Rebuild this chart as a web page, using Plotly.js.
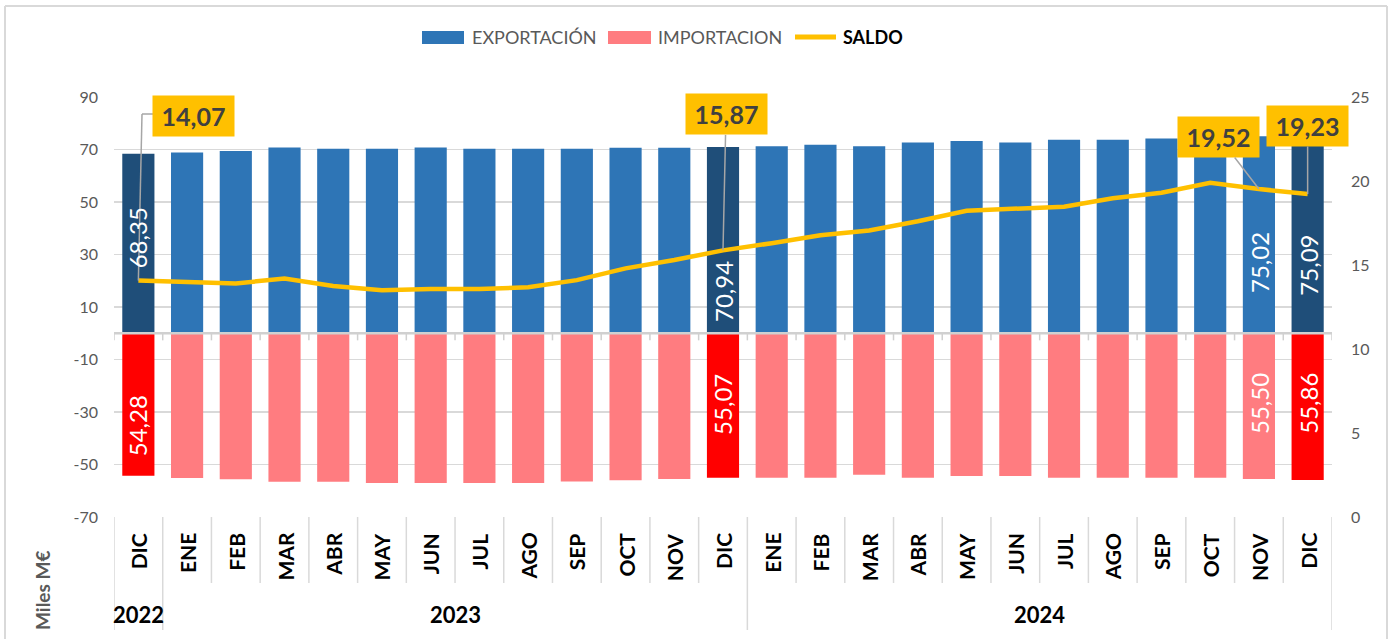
<!DOCTYPE html>
<html>
<head>
<meta charset="utf-8">
<script src="https://cdn.plot.ly/plotly-3.0.1.min.js"></script>
<style>html,body{margin:0;padding:0;background:#fff;}#chart{width:1395px;height:639px;}</style>
</head>
<body>
<div id="chart"></div>
<script>
// ---- data ----
const months = ['DIC','ENE','FEB','MAR','ABR','MAY','JUN','JUL','AGO','SEP','OCT','NOV','DIC',
                'ENE','FEB','MAR','ABR','MAY','JUN','JUL','AGO','SEP','OCT','NOV','DIC'];
const years = ['2022','2023','2023','2023','2023','2023','2023','2023','2023','2023','2023','2023','2023',
               '2024','2024','2024','2024','2024','2024','2024','2024','2024','2024','2024','2024'];
const exportacion = [68.35, 68.9, 69.4, 70.8, 70.3, 70.3, 70.8, 70.3, 70.3, 70.3, 70.7, 70.7, 70.94,
                     71.2, 71.8, 71.2, 72.7, 73.2, 72.7, 73.7, 73.7, 74.2, 74.9, 75.02, 75.09];
const importacion = [54.28, 55.1, 55.6, 56.6, 56.6, 57.0, 57.0, 57.0, 57.0, 56.5, 56.0, 55.5, 55.07,
                     55.0, 55.0, 53.9, 55.0, 54.4, 54.4, 55.0, 55.0, 55.0, 55.0, 55.50, 55.86];
const saldo = [14.07, 13.97, 13.9, 14.2, 13.75, 13.5, 13.57, 13.57, 13.67, 14.1, 14.8, 15.3, 15.87,
               16.3, 16.77, 17.05, 17.6, 18.23, 18.37, 18.47, 18.97, 19.3, 19.9, 19.52, 19.23];
const leftTicks = [-70, -50, -30, -10, 10, 30, 50, 70, 90];
const rightTicks = [0, 5, 10, 15, 20, 25];
const highlighted = [0, 12, 24];        // DIC bars drawn darker
const labelled = [0, 12, 23, 24];       // bars carrying value labels

// ---- geometry helpers (plot area in pixels) ----
const W = 1395, H = 639;
const PL = 114, PR = 1332, PT = 97, PB = 517;
const PX = px => (px - PL) / (PR - PL);
const PY = py => (PB - py) / (PB - PT);
const catW = (PR - PL) / months.length;
const pxToCat = px => (px - PL) / catW - 0.5;
const pyToY2 = py => (PB - py) / (PB - PT) * 25;
const fmt = v => v.toFixed(2).replace('.', ',');
const idx = months.map((_, i) => i);

const grey = '#595959';
const expColors = idx.map(i => highlighted.includes(i) ? '#1F4E79' : '#2E75B6');
const impColors = idx.map(i => highlighted.includes(i) ? '#FF0000' : '#FF7C80');

const traces = [
  {type: 'bar', x: idx, y: exportacion, width: 0.66, marker: {color: expColors},
   name: 'EXPORTACIÓN', hoverinfo: 'skip', showlegend: false},
  {type: 'bar', x: idx, y: importacion.map(v => -v), width: 0.66, marker: {color: impColors},
   name: 'IMPORTACION', hoverinfo: 'skip', showlegend: false},
  {type: 'scatter', mode: 'lines', x: idx, y: saldo, yaxis: 'y2',
   line: {color: '#FFC000', width: 4.5}, name: 'SALDO', hoverinfo: 'skip', showlegend: false}
];

const shapes = [];
const annotations = [];

// outer frame
const frame = {color: '#d9d9d9', width: 2};
shapes.push({type: 'line', xref: 'paper', yref: 'paper', x0: PX(5), x1: PX(5), y0: PY(6), y1: PY(640), line: frame});
shapes.push({type: 'line', xref: 'paper', yref: 'paper', x0: PX(5), x1: PX(1387), y0: PY(6), y1: PY(6), line: frame});
shapes.push({type: 'line', xref: 'paper', yref: 'paper', x0: PX(1387), x1: PX(1387), y0: PY(6), y1: PY(640), line: frame});

// zero axis line with ticks at category boundaries
shapes.push({type: 'line', xref: 'paper', yref: 'y', x0: 0, x1: 1, y0: 0, y1: 0, line: {color: '#d0d0d0', width: 2.5}});
for (let b = -0.5; b <= months.length - 0.5; b += 1) {
  shapes.push({type: 'line', xref: 'x', yref: 'y', x0: b, x1: b, y0: 0, y1: -2.7, line: {color: '#d0d0d0', width: 1.5}});
  const yearEdge = (b < 0) || (b > months.length - 1) || (years[Math.floor(b)] !== years[Math.ceil(b)]);
  shapes.push({type: 'line', xref: 'x', yref: 'paper', x0: b, x1: b, y0: 0, y1: PY(yearEdge ? 630 : 583),
               line: {color: '#d9d9d9', width: 1.5}});
}

// month labels
months.forEach((m, i) => {
  annotations.push({xref: 'x', yref: 'paper', x: i, y: PY(531), yanchor: 'top', xanchor: 'center',
    text: m, textangle: -90, showarrow: false, font: {family: 'Lato', size: 21, weight: 'bold', color: '#000'}});
});
// year labels
const yearNames = [...new Set(years)];
yearNames.forEach(yr => {
  const ids = idx.filter(i => years[i] === yr);
  const cx = ids.reduce((a, b) => a + b, 0) / ids.length;
  annotations.push({xref: 'x', yref: 'paper', x: cx, y: PY(614), yanchor: 'middle', xanchor: 'center',
    text: yr, showarrow: false, font: {family: 'Lato', size: 22, weight: 'bold', color: '#000'}});
});

// value labels inside bars (vertical, white)
const expLabelY = {0: 36.3, 12: 15.7, 23: 27.1, 24: 26.0};
const impLabelY = {0: -35.3, 12: -27.3, 23: -26.6, 24: -26.6};
labelled.forEach(i => {
  annotations.push({xref: 'x', yref: 'y', x: i, y: expLabelY[i], text: fmt(exportacion[i]), textangle: -90,
    showarrow: false, font: {family: 'Lato', size: 24, color: '#fff'}});
  annotations.push({xref: 'x', yref: 'y', x: i, y: impLabelY[i], text: fmt(importacion[i]), textangle: -90,
    showarrow: false, font: {family: 'Lato', size: 24, color: '#fff'}});
});

// saldo call-outs
const saldoCallouts = {0: [55, -165], 12: [3, -136], 23: [-40, -52], 24: [0, -68]};
const leaderColor = '#a6a6a6';
Object.keys(saldoCallouts).forEach(k => {
  const i = +k;
  const elbow = (i === 0);
  annotations.push({xref: 'x', yref: 'y2', x: i, y: saldo[i], text: fmt(saldo[i]),
    ax: saldoCallouts[k][0], ay: saldoCallouts[k][1], showarrow: true, arrowhead: 0, arrowwidth: 1.5,
    arrowcolor: elbow ? 'rgba(0,0,0,0)' : leaderColor, standoff: 0, bgcolor: '#FFC000', borderpad: 0,
    width: 81, height: 40, font: {family: 'Lato', size: 25, weight: 'bold', color: '#404040'}});
});
// elbow leader for the first call-out
const elbowX = pxToCat(142), elbowY = pyToY2(114);
shapes.push({type: 'line', xref: 'x', yref: 'y2', x0: 0, x1: elbowX, y0: saldo[0], y1: elbowY,
             line: {color: leaderColor, width: 1.5}});
shapes.push({type: 'line', xref: 'x', yref: 'y2', x0: elbowX, x1: pxToCat(154), y0: elbowY, y1: elbowY,
             line: {color: leaderColor, width: 1.5}});

// axis title
annotations.push({xref: 'paper', yref: 'paper', x: PX(42), y: PY(591), text: 'Miles M€', textangle: -90,
  showarrow: false, xanchor: 'center', yanchor: 'middle', font: {family: 'Lato', size: 19, weight: 'bold', color: grey}});

// legend (custom)
const legY = PY(37);
shapes.push({type: 'rect', xref: 'paper', yref: 'paper', x0: PX(422), x1: PX(464), y0: PY(44), y1: PY(31),
             fillcolor: '#2E75B6', line: {width: 0}});
shapes.push({type: 'rect', xref: 'paper', yref: 'paper', x0: PX(608), x1: PX(651), y0: PY(44), y1: PY(31),
             fillcolor: '#FF7C80', line: {width: 0}});
shapes.push({type: 'line', xref: 'paper', yref: 'paper', x0: PX(795), x1: PX(836), y0: legY, y1: legY,
             line: {color: '#FFC000', width: 5}});
[[470, traces[0].name, 'normal', grey], [656, traces[1].name, 'normal', grey], [841, traces[2].name, 'bold', '#000']]
  .forEach(([px, t, w, c]) => {
    annotations.push({xref: 'paper', yref: 'paper', x: PX(px), y: legY, xanchor: 'left', yanchor: 'middle',
      text: t, showarrow: false, font: {family: 'Lato', size: 18, weight: w, color: c}});
  });

const layout = {
  width: W, height: H,
  margin: {l: PL, r: W - PR, t: PT, b: H - PB, pad: 0},
  paper_bgcolor: '#fff', plot_bgcolor: '#fff',
  barmode: 'relative', showlegend: false,
  xaxis: {range: [-0.5, months.length - 0.5], showticklabels: false, showgrid: false, zeroline: false,
          showline: false, ticks: '', fixedrange: true},
  yaxis: {range: [-70, 90], tickvals: leftTicks, ticktext: leftTicks.map(String), showgrid: true,
          gridcolor: '#d9d9d9', gridwidth: 1.5, zeroline: false, showline: false, ticks: '',
          ticklabelstandoff: 15, tickfont: {family: 'Lato', size: 16, color: grey}, fixedrange: true},
  yaxis2: {range: [0, 25], overlaying: 'y', side: 'right', tickvals: rightTicks, showgrid: false,
           zeroline: false, showline: false, ticks: '', ticklabelstandoff: 18,
           tickfont: {family: 'Lato', size: 16, color: grey}, fixedrange: true},
  shapes: shapes,
  annotations: annotations
};

Plotly.newPlot('chart', traces, layout, {staticPlot: true, displayModeBar: false});
</script>
</body>
</html>
